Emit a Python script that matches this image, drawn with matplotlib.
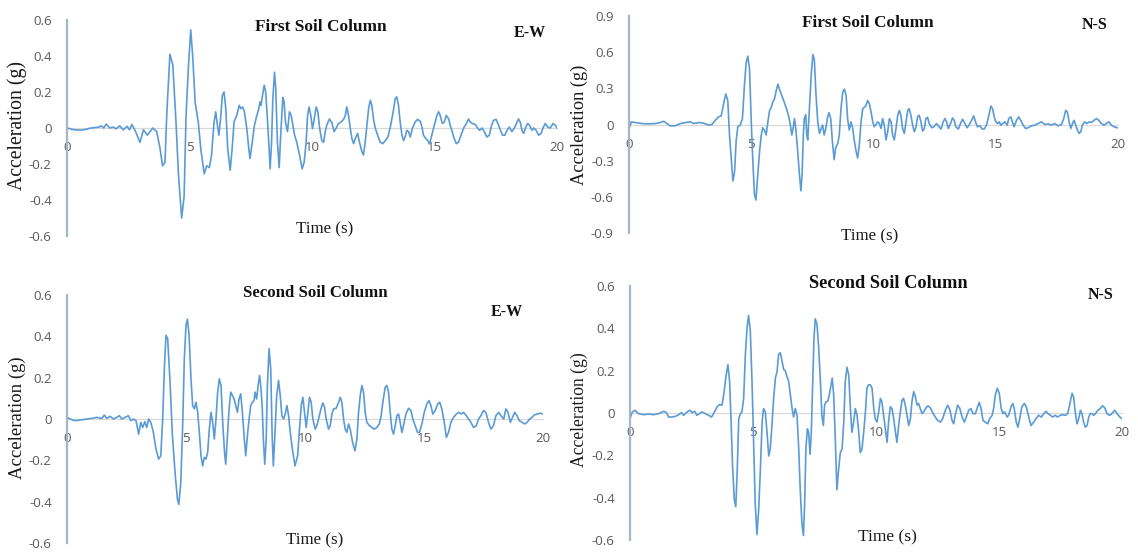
import numpy as np
import matplotlib
matplotlib.use("Agg")
import matplotlib.pyplot as plt

# ---------------------------------------------------------------------------
# Acceleration time histories (time in s, acceleration in g)
# ---------------------------------------------------------------------------
first_ew = [
    (0, 0), (0.3, -0.01), (0.6, -0.012), (1.0, 0.0), (1.3, 0.005), (1.4, 0.012), (1.5, 0.0),
    (1.6, 0.022), (1.75, 0.0), (1.9, 0.005), (2.0, -0.005), (2.15, 0.012), (2.3, -0.01),
    (2.45, 0.01), (2.55, -0.01), (2.65, 0.02), (2.8, -0.02), (2.98, -0.08), (3.12, -0.01),
    (3.28, -0.04), (3.39, -0.02), (3.5, 0.0), (3.66, -0.02), (3.8, -0.115), (3.9, -0.21),
    (4.0, -0.19), (4.07, 0.07), (4.2, 0.41), (4.32, 0.35), (4.45, 0.03), (4.55, -0.26),
    (4.68, -0.5), (4.78, -0.38), (4.86, 0.07), (4.96, 0.35), (5.05, 0.545), (5.13, 0.4),
    (5.23, 0.145), (5.36, 0.03), (5.46, -0.115), (5.6, -0.255), (5.7, -0.21), (5.81, -0.22),
    (5.9, -0.15), (6.0, 0.03), (6.07, 0.09), (6.14, 0.015), (6.2, -0.04), (6.28, 0.07),
    (6.34, 0.18), (6.41, 0.2), (6.48, 0.11), (6.56, -0.115), (6.66, -0.235), (6.74, -0.115),
    (6.82, 0.035), (6.93, 0.07), (7.03, 0.126), (7.09, 0.108), (7.17, 0.117), (7.24, 0.09),
    (7.34, -0.004), (7.42, -0.115), (7.47, -0.17), (7.56, -0.08), (7.65, 0.015), (7.75, 0.07),
    (7.83, 0.108), (7.88, 0.145), (7.92, 0.126), (7.98, 0.18), (8.05, 0.238), (8.11, 0.2),
    (8.18, 0.05), (8.25, -0.115), (8.29, -0.227), (8.35, -0.08), (8.4, 0.16), (8.47, 0.31),
    (8.52, 0.22), (8.59, -0.08), (8.66, -0.22), (8.73, -0.02), (8.81, 0.17), (8.86, 0.145),
    (8.92, 0.03), (9.0, -0.02), (9.08, 0.09), (9.15, 0.07), (9.22, 0.015), (9.29, -0.04),
    (9.38, -0.08), (9.49, -0.15), (9.6, -0.227), (9.68, -0.19), (9.76, -0.08), (9.82, 0.07),
    (9.88, 0.117), (9.95, 0.07), (10.02, -0.004), (10.09, 0.05), (10.17, 0.117), (10.24, 0.09),
    (10.31, 0.0), (10.4, -0.07), (10.47, -0.08), (10.54, -0.02), (10.6, 0.015), (10.71, 0.05),
    (10.81, 0.03), (10.9, -0.02), (10.99, 0.0), (11.08, 0.025), (11.18, 0.033), (11.29, 0.048),
    (11.36, 0.07), (11.42, 0.117), (11.49, 0.07), (11.56, 0.0), (11.63, -0.06), (11.7, -0.087),
    (11.76, -0.06), (11.86, -0.03), (11.94, -0.08), (12.04, -0.134), (12.1, -0.15),
    (12.17, -0.08), (12.24, 0.015), (12.31, 0.108), (12.38, 0.154), (12.44, 0.126),
    (12.51, 0.05), (12.58, 0.0), (12.68, -0.04), (12.78, -0.078), (12.89, -0.087),
    (12.99, -0.07), (13.1, -0.05), (13.19, 0.0), (13.3, 0.08), (13.4, 0.164), (13.46, 0.173),
    (13.53, 0.126), (13.6, 0.033), (13.67, -0.04), (13.74, -0.07), (13.8, -0.05),
    (13.87, -0.013), (13.94, -0.02), (14.01, -0.05), (14.1, 0.0), (14.21, 0.033),
    (14.31, 0.048), (14.42, 0.037), (14.49, 0.005), (14.55, -0.04), (14.65, -0.06),
    (14.73, -0.07), (14.8, -0.087), (14.89, -0.04), (14.99, 0.015), (15.1, 0.07), (15.17, 0.09),
    (15.23, 0.07), (15.32, 0.025), (15.4, 0.033), (15.48, 0.07), (15.58, 0.05), (15.64, 0.015),
    (15.71, -0.013), (15.78, -0.05), (15.89, -0.087), (15.98, -0.078), (16.08, -0.04),
    (16.19, 0.0), (16.3, 0.025), (16.39, 0.05), (16.46, 0.033), (16.55, 0.025), (16.66, 0.02),
    (16.76, 0.0), (16.84, -0.013), (16.94, 0.0), (17.03, -0.02), (17.14, -0.05), (17.24, -0.04),
    (17.33, 0.015), (17.41, 0.043), (17.51, 0.048), (17.59, 0.025), (17.69, -0.013),
    (17.78, -0.04), (17.87, -0.04), (17.96, -0.013), (18.05, 0.005), (18.16, -0.02),
    (18.26, 0.0), (18.37, 0.033), (18.43, 0.05), (18.5, 0.033), (18.57, -0.013), (18.64, -0.03),
    (18.71, 0.0), (18.8, 0.025), (18.88, 0.015), (18.98, -0.013), (19.05, 0.0), (19.15, -0.013),
    (19.25, -0.04), (19.35, -0.03), (19.43, 0.0), (19.52, 0.025), (19.62, 0.005), (19.72, 0.0),
    (19.84, 0.025), (19.93, 0.015), (20.0, 0.0),
]

first_ns = [
    (0, -0.033), (0.10, 0.022), (0.26, 0.016), (0.53, 0.008), (0.80, 0.005), (1.08, 0.008),
    (1.28, 0.016), (1.42, 0.027), (1.55, 0.008), (1.69, -0.011), (1.89, -0.011), (2.10, 0.008),
    (2.30, 0.016), (2.51, 0.022), (2.64, 0.008), (2.85, 0.016), (3.05, 0.011), (3.25, -0.005),
    (3.39, 0.0), (3.53, 0.035), (3.66, 0.063), (3.77, 0.071), (3.87, 0.172), (3.96, 0.253),
    (4.04, 0.199), (4.11, -0.087), (4.18, -0.278), (4.25, -0.469), (4.32, -0.387),
    (4.38, -0.142), (4.45, -0.019), (4.55, -0.005), (4.64, 0.049), (4.72, 0.322), (4.79, 0.512),
    (4.86, 0.567), (4.93, 0.458), (5.00, 0.022), (5.06, -0.278), (5.13, -0.578), (5.19, -0.627),
    (5.27, -0.414), (5.34, -0.223), (5.41, -0.087), (5.47, -0.027), (5.54, -0.046),
    (5.61, -0.087), (5.68, 0.022), (5.75, 0.117), (5.81, 0.136), (5.88, 0.185), (5.95, 0.213),
    (6.02, 0.281), (6.09, 0.335), (6.15, 0.294), (6.25, 0.24), (6.34, 0.191), (6.44, 0.131),
    (6.52, 0.076), (6.59, 0.008), (6.66, -0.087), (6.71, -0.033), (6.77, 0.049), (6.82, -0.033),
    (6.89, -0.196), (6.96, -0.387), (7.03, -0.55), (7.08, -0.414), (7.13, -0.087), (7.17, 0.049),
    (7.23, 0.082), (7.27, -0.087), (7.31, -0.128), (7.38, 0.131), (7.45, 0.403), (7.52, 0.58),
    (7.58, 0.54), (7.65, 0.24), (7.72, 0.022), (7.79, -0.074), (7.86, -0.033), (7.92, -0.005),
    (7.98, -0.087), (8.05, -0.033), (8.11, 0.049), (8.18, 0.098), (8.25, 0.049), (8.32, -0.142),
    (8.39, -0.292), (8.45, -0.196), (8.54, -0.155), (8.60, -0.087), (8.67, 0.131), (8.74, 0.267),
    (8.81, 0.294), (8.88, 0.24), (8.94, 0.049), (9.01, -0.046), (9.08, 0.022), (9.15, -0.033),
    (9.22, -0.142), (9.29, -0.223), (9.35, -0.278), (9.42, -0.169), (9.49, 0.022), (9.56, 0.131),
    (9.63, 0.144), (9.69, 0.158), (9.76, 0.199), (9.83, 0.172), (9.90, 0.104), (9.97, 0.022),
    (10.03, -0.019), (10.10, 0.0), (10.17, 0.022), (10.24, 0.008), (10.31, -0.033),
    (10.37, 0.049), (10.44, -0.005), (10.51, -0.128), (10.58, -0.06), (10.65, 0.049),
    (10.72, 0.022), (10.78, -0.087), (10.85, -0.128), (10.92, -0.033), (10.99, 0.076),
    (11.06, 0.117), (11.12, 0.076), (11.19, -0.033), (11.26, -0.074), (11.33, 0.022),
    (11.40, 0.117), (11.46, 0.131), (11.53, 0.076), (11.60, -0.005), (11.67, -0.06),
    (11.74, -0.019), (11.80, 0.063), (11.87, 0.076), (11.94, 0.022), (12.01, -0.055),
    (12.08, -0.033), (12.14, 0.049), (12.21, 0.06), (12.28, 0.008), (12.38, -0.027),
    (12.47, -0.019), (12.58, 0.008), (12.68, -0.019), (12.76, -0.038), (12.85, 0.022),
    (12.92, 0.049), (12.99, 0.022), (13.06, -0.033), (13.15, 0.008), (13.23, 0.054),
    (13.30, 0.035), (13.37, -0.019), (13.47, -0.038), (13.56, 0.008), (13.64, 0.044),
    (13.74, 0.008), (13.83, -0.027), (13.91, -0.005), (14.01, 0.035), (14.10, 0.071),
    (14.17, 0.022), (14.25, -0.019), (14.35, -0.011), (14.45, -0.038), (14.53, -0.038),
    (14.62, -0.005), (14.72, 0.076), (14.80, 0.153), (14.87, 0.131), (14.94, 0.063),
    (15.00, 0.022), (15.07, 0.008), (15.14, 0.022), (15.21, -0.005), (15.28, 0.008),
    (15.37, 0.022), (15.47, -0.005), (15.53, 0.049), (15.62, 0.063), (15.68, 0.022),
    (15.75, -0.019), (15.85, 0.035), (15.94, 0.063), (16.02, 0.035), (16.12, -0.005),
    (16.22, -0.033), (16.32, -0.027), (16.46, -0.011), (16.60, -0.005), (16.73, 0.008),
    (16.87, 0.022), (17.01, 0.0), (17.14, 0.005), (17.28, -0.005), (17.41, 0.008),
    (17.55, -0.011), (17.69, 0.0), (17.78, 0.049), (17.86, 0.117), (17.93, 0.104),
    (18.00, 0.022), (18.07, -0.033), (18.14, 0.008), (18.20, 0.035), (18.27, -0.005),
    (18.34, -0.046), (18.41, -0.074), (18.48, -0.06), (18.54, -0.005), (18.64, 0.022),
    (18.73, 0.008), (18.82, 0.022), (18.91, 0.016), (19.02, 0.035), (19.12, 0.049),
    (19.21, 0.035), (19.32, 0.008), (19.43, -0.005), (19.52, 0.008), (19.62, 0.022),
    (19.73, -0.005), (19.84, -0.019), (19.97, -0.027),
]

second_ew = [
    (0, 0.008), (0.13, 0.0), (0.34, -0.008), (0.55, -0.005), (0.83, 0.0), (1.04, 0.003),
    (1.25, 0.008), (1.46, 0.003), (1.57, 0.019), (1.67, 0.003), (1.81, 0.013), (1.95, 0.0),
    (2.09, 0.008), (2.20, 0.016), (2.30, 0.0), (2.44, 0.008), (2.58, 0.016), (2.68, -0.008),
    (2.79, 0.0), (2.90, -0.008), (3.01, -0.073), (3.10, -0.016), (3.18, -0.041), (3.27, -0.013),
    (3.35, -0.041), (3.43, 0.0), (3.52, -0.016), (3.63, -0.065), (3.74, -0.146), (3.85, -0.194),
    (3.94, -0.178), (4.02, 0.0), (4.09, 0.243), (4.16, 0.405), (4.23, 0.389), (4.33, 0.178),
    (4.43, -0.081), (4.54, -0.259), (4.64, -0.389), (4.70, -0.413), (4.78, -0.308),
    (4.86, -0.032), (4.93, 0.292), (5.00, 0.454), (5.06, 0.483), (5.13, 0.405), (5.21, 0.194),
    (5.28, 0.065), (5.35, 0.049), (5.42, 0.081), (5.49, 0.032), (5.56, -0.065), (5.63, -0.178),
    (5.70, -0.227), (5.77, -0.186), (5.84, -0.194), (5.91, -0.162), (5.98, -0.049),
    (6.05, 0.032), (6.12, -0.016), (6.19, -0.097), (6.26, 0.0), (6.33, 0.13), (6.40, 0.194),
    (6.47, 0.162), (6.55, -0.032), (6.62, -0.162), (6.67, -0.219), (6.74, -0.081), (6.81, 0.049),
    (6.88, 0.13), (6.95, 0.113), (7.02, 0.097), (7.09, 0.065), (7.16, 0.032), (7.23, 0.097),
    (7.30, 0.122), (7.37, 0.032), (7.44, -0.081), (7.51, -0.178), (7.58, -0.081), (7.65, 0.0),
    (7.72, 0.065), (7.79, 0.081), (7.86, 0.089), (7.90, 0.13), (7.97, 0.097), (8.03, 0.162),
    (8.09, 0.211), (8.14, 0.162), (8.20, 0.065), (8.25, -0.097), (8.31, -0.219), (8.37, -0.097),
    (8.42, 0.162), (8.49, 0.34), (8.56, 0.243), (8.62, -0.081), (8.67, -0.227), (8.74, -0.065),
    (8.81, 0.113), (8.89, 0.186), (8.96, 0.113), (9.03, 0.016), (9.10, 0.0), (9.17, 0.024),
    (9.24, 0.065), (9.31, 0.016), (9.38, -0.065), (9.47, -0.146), (9.58, -0.227),
    (9.69, -0.178), (9.77, -0.049), (9.84, 0.065), (9.91, 0.105), (9.98, 0.032), (10.05, -0.041),
    (10.12, 0.032), (10.19, 0.105), (10.26, 0.081), (10.33, 0.0), (10.43, -0.049),
    (10.50, -0.032), (10.57, 0.0), (10.67, 0.049), (10.75, 0.078), (10.82, 0.057), (10.89, 0.0),
    (10.99, -0.049), (11.06, -0.032), (11.13, 0.024), (11.20, 0.049), (11.31, 0.052),
    (11.41, 0.081), (11.48, 0.105), (11.55, 0.081), (11.62, 0.0), (11.69, -0.049),
    (11.76, -0.065), (11.83, -0.024), (11.90, -0.049), (12.00, -0.113), (12.10, -0.154),
    (12.18, -0.097), (12.25, 0.032), (12.32, 0.113), (12.39, 0.162), (12.46, 0.13),
    (12.53, 0.032), (12.60, -0.016), (12.71, -0.032), (12.81, -0.041), (12.91, -0.049),
    (13.02, -0.041), (13.12, -0.024), (13.20, 0.016), (13.27, 0.081), (13.37, 0.154),
    (13.44, 0.162), (13.51, 0.13), (13.58, 0.032), (13.65, -0.049), (13.72, -0.073),
    (13.79, -0.032), (13.86, 0.016), (13.93, 0.024), (14.00, -0.016), (14.07, -0.065),
    (14.14, -0.032), (14.24, 0.024), (14.35, 0.052), (14.45, 0.041), (14.53, 0.0),
    (14.63, -0.032), (14.73, -0.065), (14.81, -0.065), (14.91, -0.024), (15.01, 0.032),
    (15.12, 0.073), (15.21, 0.089), (15.29, 0.065), (15.37, 0.024), (15.47, 0.041),
    (15.58, 0.073), (15.66, 0.081), (15.75, 0.049), (15.85, -0.016), (15.94, -0.089),
    (16.03, -0.065), (16.13, -0.016), (16.24, 0.008), (16.36, 0.024), (16.45, 0.032),
    (16.57, 0.024), (16.66, 0.032), (16.78, 0.016), (16.87, 0.0), (16.97, -0.016),
    (17.08, -0.041), (17.20, -0.032), (17.29, 0.0), (17.39, 0.016), (17.50, 0.041),
    (17.60, 0.032), (17.71, -0.016), (17.81, -0.049), (17.92, -0.032), (18.02, 0.016),
    (18.14, 0.032), (18.23, 0.016), (18.35, 0.0), (18.44, 0.049), (18.53, 0.032),
    (18.63, -0.016), (18.72, 0.008), (18.81, 0.032), (18.91, 0.016), (19.00, -0.008),
    (19.12, -0.016), (19.23, -0.024), (19.33, -0.016), (19.44, 0.0), (19.54, 0.008),
    (19.63, 0.019), (19.75, 0.024), (19.89, 0.028), (20.00, 0.024),
]

second_ns = [
    (0, -0.027), (0.08, 0.002), (0.19, 0.013), (0.35, -0.003), (0.56, -0.008), (0.76, -0.005),
    (0.96, -0.008), (1.17, -0.003), (1.37, 0.008), (1.48, 0.002), (1.57, -0.019), (1.71, -0.019),
    (1.84, -0.016), (1.98, -0.008), (2.09, 0.002), (2.18, -0.011), (2.32, 0.005), (2.43, 0.013),
    (2.52, 0.002), (2.63, 0.008), (2.72, -0.011), (2.82, -0.003), (2.93, 0.005), (3.06, -0.003),
    (3.20, -0.011), (3.31, -0.019), (3.40, -0.003), (3.54, 0.029), (3.64, 0.04), (3.74, 0.037),
    (3.81, 0.085), (3.90, 0.173), (3.98, 0.229), (4.05, 0.149), (4.11, -0.043), (4.17, -0.251),
    (4.24, -0.411), (4.30, -0.443), (4.36, -0.267), (4.42, -0.027), (4.49, -0.003), (4.55, 0.005),
    (4.62, 0.069), (4.69, 0.277), (4.76, 0.405), (4.82, 0.461), (4.89, 0.389), (4.96, 0.149),
    (5.03, -0.171), (5.09, -0.427), (5.16, -0.574), (5.23, -0.459), (5.30, -0.267),
    (5.37, -0.043), (5.43, 0.021), (5.50, 0.005), (5.57, -0.091), (5.64, -0.203), (5.70, -0.171),
    (5.77, -0.059), (5.84, 0.069), (5.91, 0.165), (5.98, 0.197), (6.04, 0.277), (6.11, 0.285),
    (6.18, 0.245), (6.25, 0.205), (6.31, 0.2), (6.38, 0.173), (6.45, 0.149), (6.52, 0.085),
    (6.59, 0.021), (6.65, -0.019), (6.72, 0.021), (6.79, -0.011), (6.86, -0.171), (6.92, -0.363),
    (6.99, -0.523), (7.05, -0.579), (7.10, -0.427), (7.15, -0.171), (7.21, -0.075),
    (7.26, -0.091), (7.32, -0.195), (7.37, -0.091), (7.43, 0.149), (7.48, 0.357), (7.53, 0.445),
    (7.60, 0.421), (7.67, 0.309), (7.74, 0.149), (7.80, -0.011), (7.86, -0.059), (7.91, 0.037),
    (7.97, 0.053), (8.04, 0.056), (8.10, 0.085), (8.17, 0.133), (8.22, 0.165), (8.28, 0.085),
    (8.35, -0.139), (8.41, -0.363), (8.48, -0.267), (8.55, -0.187), (8.62, -0.171),
    (8.69, -0.043), (8.75, 0.149), (8.82, 0.216), (8.89, 0.181), (8.96, 0.021), (9.02, -0.091),
    (9.09, -0.043), (9.16, 0.021), (9.23, -0.011), (9.30, -0.091), (9.36, -0.187),
    (9.43, -0.171), (9.50, -0.091), (9.57, 0.005), (9.63, 0.117), (9.70, 0.133), (9.77, 0.133),
    (9.84, 0.117), (9.91, 0.021), (9.97, -0.027), (10.04, -0.043), (10.11, 0.005),
    (10.18, 0.069), (10.24, 0.053), (10.31, -0.011), (10.38, -0.075), (10.45, -0.139),
    (10.51, -0.043), (10.58, 0.029), (10.65, 0.021), (10.72, -0.027), (10.79, -0.091),
    (10.85, -0.139), (10.92, -0.059), (10.99, 0.005), (11.06, 0.061), (11.12, 0.069),
    (11.19, 0.037), (11.26, -0.011), (11.33, -0.059), (11.40, -0.027), (11.46, 0.053),
    (11.53, 0.101), (11.60, 0.077), (11.67, 0.037), (11.73, 0.045), (11.80, 0.021),
    (11.87, -0.003), (11.94, 0.005), (12.01, 0.021), (12.11, 0.034), (12.21, 0.024),
    (12.30, 0.002), (12.41, -0.019), (12.51, -0.035), (12.62, -0.043), (12.71, -0.027),
    (12.82, 0.013), (12.91, 0.037), (13.01, 0.013), (13.09, -0.035), (13.16, -0.051),
    (13.22, -0.011), (13.32, 0.037), (13.40, 0.024), (13.50, -0.019), (13.59, -0.043),
    (13.67, -0.019), (13.77, 0.013), (13.86, 0.021), (13.94, -0.003), (14.04, -0.003),
    (14.13, 0.029), (14.20, 0.05), (14.27, 0.021), (14.35, -0.035), (14.44, -0.043),
    (14.54, -0.051), (14.62, -0.027), (14.72, -0.011), (14.78, 0.021), (14.85, 0.085),
    (14.93, 0.117), (15.01, 0.093), (15.09, 0.021), (15.16, -0.003), (15.23, 0.005),
    (15.33, -0.019), (15.39, -0.011), (15.49, 0.029), (15.56, 0.045), (15.62, 0.021),
    (15.70, -0.043), (15.77, -0.067), (15.84, -0.027), (15.93, 0.029), (16.03, 0.045),
    (16.11, 0.029), (16.21, -0.019), (16.30, -0.059), (16.41, -0.043), (16.50, -0.027),
    (16.61, -0.011), (16.72, -0.019), (16.82, -0.003), (16.91, 0.008), (16.99, -0.003),
    (17.09, -0.011), (17.18, -0.019), (17.29, -0.011), (17.38, -0.019), (17.49, -0.011),
    (17.59, -0.008), (17.70, -0.011), (17.79, -0.003), (17.87, 0.037), (17.97, 0.093),
    (18.03, 0.077), (18.10, 0.005), (18.17, -0.051), (18.24, -0.027), (18.31, 0.013),
    (18.37, -0.003), (18.44, -0.043), (18.51, -0.067), (18.58, -0.059), (18.65, -0.019),
    (18.71, -0.003), (18.78, -0.003), (18.85, -0.011), (18.92, -0.003), (19.02, 0.013),
    (19.12, 0.021), (19.21, 0.034), (19.30, 0.024), (19.39, -0.003), (19.49, -0.011),
    (19.59, -0.003), (19.70, 0.013), (19.80, -0.003), (19.91, -0.019), (20.0, -0.027),
]

x_ticks = [0, 5, 10, 15, 20]
y_ticks_06 = [-0.6, -0.4, -0.2, 0, 0.2, 0.4, 0.6]
y_labels_06 = ["-0.6", "-0.4", "-0.2", "0", "0.2", "0.4", "0.6"]
y_ticks_09 = [-0.9, -0.6, -0.3, 0, 0.3, 0.6, 0.9]
y_labels_09 = ["-0.9", "-0.6", "-0.3", "0", "0.3", "0.6", "0.9"]

# ---------------------------------------------------------------------------
W, H = 1138, 554
fig = plt.figure(figsize=(W / 100, H / 100), dpi=100)
fig.patch.set_facecolor("white")

LINE = "#5B9BD5"
AXIS = "#A7B5C9"
ZERO = "#D9D9D9"
TICK = "#595959"
SERIF = "Liberation Serif"
SANS = "Open Sans"


def fx(px):
    return px / W


def fy(py):
    return 1 - py / H


def panel(box, series, ylim, yticks, ylabels, title, comp, title_xy, comp_xy, time_xy,
          acc_xy, title_size, label_size, acc_size):
    left, right, top, bottom = box
    ax = fig.add_axes([fx(left), fy(bottom), (right - left) / W, (bottom - top) / H])
    arr = np.asarray(series)
    ax.plot(arr[:, 0], arr[:, 1], color=LINE, lw=1.2, solid_joinstyle="round")
    ax.set_xlim(0, 20)
    ax.set_ylim(*ylim)
    for s in ("top", "right"):
        ax.spines[s].set_visible(False)
    ax.spines["left"].set_color(AXIS)
    ax.spines["left"].set_linewidth(1.6)
    ax.spines["bottom"].set_position(("data", 0))
    ax.spines["bottom"].set_color(ZERO)
    ax.spines["bottom"].set_linewidth(0.9)
    ax.spines["bottom"].set_zorder(0)
    ax.set_xticks(x_ticks)
    ax.set_xticklabels([str(v) for v in x_ticks])
    ax.set_yticks(yticks)
    ax.set_yticklabels(ylabels)
    ax.tick_params(axis="both", length=0, labelsize=9.5, labelcolor=TICK)
    ax.tick_params(axis="x", pad=9.5)
    ax.tick_params(axis="y", pad=11.0)
    for lab in ax.get_xticklabels() + ax.get_yticklabels():
        lab.set_fontfamily(SANS)
    ax.patch.set_alpha(0)

    fig.text(fx(title_xy[0]), fy(title_xy[1]), title, ha="center", va="center",
             fontsize=title_size, fontweight="bold", family=SERIF, color="#111111")
    fig.text(fx(comp_xy[0]), fy(comp_xy[1]), comp, ha="center", va="center",
             fontsize=11.5, fontweight="bold", family=SERIF, color="#111111")
    fig.text(fx(time_xy[0]), fy(time_xy[1]), "Time (s)", ha="center", va="center",
             fontsize=label_size, family=SERIF, color="#1a1a1a")
    fig.text(fx(acc_xy[0]), fy(acc_xy[1]), "Acceleration (g)", ha="center", va="center",
             rotation=90, fontsize=acc_size, family=SERIF, color="#1a1a1a")
    return ax


panel((67, 557, 20, 236), first_ew, (-0.6, 0.6), y_ticks_06, y_labels_06,
      "First Soil Column", "E-W", (321, 27), (530, 33), (325, 229), (17, 126),
      12.4, 12.2, 14.2)
panel((629, 1118, 16, 233), first_ns, (-0.9, 0.9), y_ticks_09, y_labels_09,
      "First Soil Column", "N-S", (868, 23), (1095, 25), (870, 236), (579, 125),
      12.4, 12.2, 13.2)
panel((67, 543, 295, 543), second_ew, (-0.6, 0.6), y_ticks_06, y_labels_06,
      "Second Soil Column", "E-W", (315, 293), (507, 312), (315, 540), (17, 418),
      12.1, 12.2, 13.5)
panel((630, 1122, 286, 540), second_ns, (-0.6, 0.6), y_ticks_06, y_labels_06,
      "Second Soil Column", "N-S", (888, 283), (1101, 295), (887, 537), (579, 410),
      13.2, 12.6, 12.7)

fig.savefig("out.png", dpi=100, facecolor="white")
